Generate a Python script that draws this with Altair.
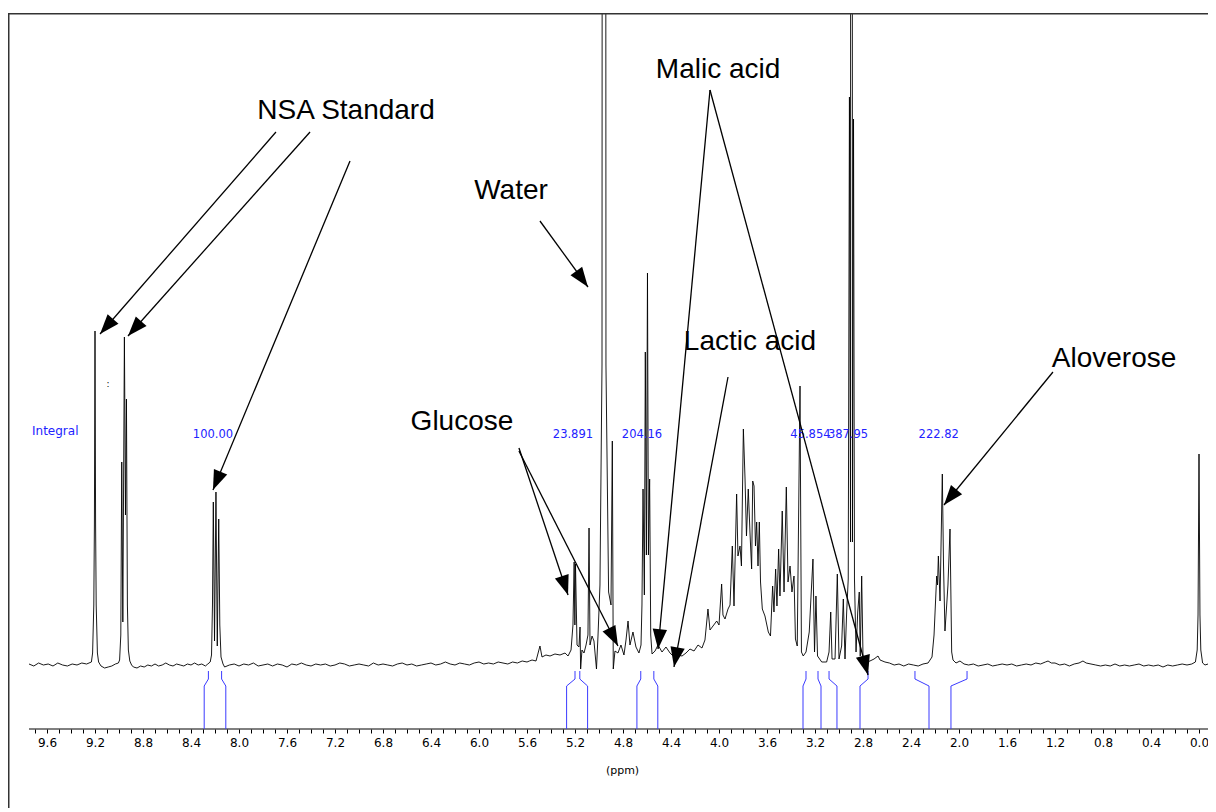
import math
import altair as alt
import pandas as pd

# ---------------- spectrum (ppm, intensity) ----------------
SPEC_PPM = [
    9.75, 9.71, 9.67, 9.63, 9.59, 9.55, 9.51, 9.47, 9.43, 9.39, 9.35, 9.31, 9.27, 9.25,
    9.23, 9.22, 9.21, 9.205, 9.2, 9.195, 9.19, 9.18, 9.17,
    9.15, 9.12, 9.09, 9.06, 9.03, 9.005,
    8.995, 8.985, 8.977, 8.968, 8.955, 8.946, 8.938, 8.93, 8.922, 8.91, 8.895,
    8.88, 8.85, 8.82, 8.79, 8.76, 8.73, 8.70, 8.67, 8.64, 8.61, 8.58, 8.55, 8.52, 8.49, 8.46, 8.43,
    8.40, 8.37, 8.34, 8.31, 8.28, 8.26, 8.24,
    8.229, 8.221, 8.214, 8.204, 8.192, 8.181, 8.169, 8.16, 8.15, 8.133, 8.12,
    8.08, 8.04, 8.00, 7.96, 7.92, 7.88, 7.84, 7.80, 7.76, 7.72, 7.68, 7.64, 7.60, 7.56, 7.52, 7.48,
    7.44, 7.40, 7.36, 7.32, 7.28, 7.24, 7.20, 7.16, 7.12, 7.08, 7.04, 7.00, 6.96, 6.92, 6.88, 6.84,
    6.80, 6.76, 6.72, 6.68, 6.64, 6.60, 6.56, 6.52, 6.48, 6.44, 6.40, 6.36, 6.32, 6.28, 6.24, 6.20,
    6.16, 6.12, 6.08, 6.04, 6.00, 5.96, 5.92, 5.88, 5.84, 5.80, 5.76, 5.72, 5.68, 5.64, 5.60, 5.58,
    5.558, 5.525, 5.492, 5.475, 5.442, 5.408, 5.367, 5.325, 5.283, 5.258,
    5.233, 5.217, 5.207, 5.201, 5.196, 5.183, 5.167, 5.158, 5.153, 5.142, 5.125, 5.108, 5.092, 5.083,
    5.075, 5.058, 5.042, 5.021, 5.008, 4.992,
    4.975, 4.958, 4.942, 4.92, 4.9, 4.889, 4.881, 4.867, 4.842, 4.817, 4.792, 4.775, 4.758, 4.742,
    4.717, 4.692, 4.667, 4.65,
    4.642, 4.633, 4.622, 4.614, 4.605, 4.596, 4.588, 4.578, 4.569, 4.558,
    4.533, 4.508, 4.475, 4.442, 4.408, 4.375, 4.342, 4.308, 4.275, 4.242, 4.208, 4.175, 4.142, 4.117,
    4.092, 4.075, 4.05, 4.019, 4.0, 3.978, 3.967, 3.95, 3.925, 3.908, 3.889, 3.875, 3.853, 3.842,
    3.825, 3.813, 3.797, 3.783, 3.771, 3.756, 3.742, 3.728, 3.719, 3.708, 3.696, 3.686, 3.675, 3.664,
    3.654, 3.639, 3.617, 3.589, 3.571, 3.553, 3.542, 3.528, 3.517, 3.503, 3.492, 3.473, 3.458, 3.439,
    3.425, 3.408, 3.392, 3.375, 3.363, 3.348, 3.325, 3.313, 3.298, 3.275, 3.248, 3.233, 3.217, 3.204,
    3.192, 3.179, 3.144, 3.103, 3.083, 3.069, 3.058, 3.033, 3.014, 3.0, 2.978, 2.964, 2.95, 2.936,
    2.923, 2.913, 2.904, 2.896, 2.888, 2.879, 2.871, 2.858, 2.844, 2.831, 2.823, 2.811, 2.8, 2.769,
    2.742, 2.708, 2.675, 2.658, 2.617,
    2.58, 2.54, 2.50, 2.46, 2.42, 2.38, 2.34, 2.30, 2.258, 2.225, 2.208, 2.186, 2.179, 2.172, 2.158,
    2.139, 2.129, 2.117, 2.103, 2.092, 2.075, 2.061, 2.05, 2.025, 1.992, 1.958,
    1.92, 1.88, 1.84, 1.80, 1.76, 1.72, 1.68, 1.64, 1.60, 1.56, 1.52, 1.48, 1.44, 1.40, 1.36, 1.32,
    1.28, 1.258, 1.23, 1.20, 1.16, 1.12, 1.08, 1.04, 1.00, 0.967, 0.94, 0.90, 0.86, 0.82, 0.78, 0.74,
    0.70, 0.66, 0.62, 0.58, 0.54, 0.50, 0.46, 0.42, 0.38, 0.34, 0.30, 0.26, 0.22, 0.18, 0.14, 0.10,
    0.06, 0.03, 0.015, 0.008, 0.0, -0.008, -0.015, -0.03, -0.05, -0.075,
]
SPEC_INT = [
    1, -1, 2, 0, 1, -1, 2, 0, -1, 1, 0, 2, 1, 2,
    3, 12, 60, 140, 334, 140, 60, 12, 3,
    -1, -3, -2, -1, 1, 2,
    5, 30, 203, 43, 328, 150, 266, 60, 15, 4, 0,
    -2, -3, -1, -2, 0, -1, 1, -1, 0, 2, 0, -1, 1, 0, -1, 1,
    0, 2, 0, 1, -1, 1, 3,
    10, 60, 163, 24, 173, 19, 146, 40, 8, 1, -2,
    0, 1, -1, 1, 0, 2, -1, 0, 1, -1, 1, 0, -2, 1, 0, 2,
    0, -1, 1, 0, 1, -1, 0, 2, 1, -1, 0, 1, 0, -1, 2, 0,
    1, 0, -1, 1, 2, 0, 1, -1, 0, 1, 2, 0, 1, 3, 1, 0,
    2, 1, 0, 2, 3, 1, 2, 1, 3, 2, 1, 3, 2, 4, 3, 4,
    5, 4, 19, 8, 10, 9, 11, 10, 12, 9,
    15, 40, 103, 40, 101, 20, 18, 38, -4, 15, 12, 20, 30, 137,
    20, 29, 24, -4, 30, 80,
    300, 6000, 300, 73, 60, 224, -4, 14, 12, 20, 10, 25, 44, 20,
    33, 18, 12, 20,
    60, 176, 70, 313, 110, 392, 110, 186, 30, 11,
    14, 20, 13, 18, 12, 8, 10, 9, 12, 16, 14, 20, 17, 25,
    56, 35, 39, 44, 40, 81, 50, 46, 56, 60, 119, 59, 171, 109,
    119, 99, 236, 186, 129, 176, 133, 96, 184, 179, 119, 143, 99, 143,
    83, 56, 49, 33, 29, 79, 53, 96, 59, 116, 69, 154, 73, 178,
    83, 99, 73, 89, 26, 19, 279, 13, 9, 13, 33, 69, 106, 13,
    69, 9, 3, 3, 13, 53, 6, 6, 91, 6, 19, 66, 6, 53,
    86, 568, 123, 6000, 123, 546, 86, 13, 53, 73, 9, 89, 9, 3,
    4, 6, 9, 5, 3,
    2, 0, 1, -1, 1, 0, -1, 1, 2, 8, 30, 89, 80, 109, 64,
    191, 100, 34, 59, 80, 136, 13, 5, 2, 4, 1,
    0, 1, -1, 0, 1, -1, 0, 1, 0, 1, -1, 0, 1, 0, 2, 1,
    3, 4, 2, 2, 0, 1, -1, 1, 2, 4, 2, 1, 0, -1, 0, -1,
    1, -1, 0, -1, 0, 1, -1, 0, -1, 0, -2, 0, -1, 0, 1, 0,
    1, 3, 15, 50, 211, 50, 15, 2, 0, 1,
]

# ---------------- integrals ----------------
INT_LABELS = ["100.00", "23.891", "204.16", "45.854", "387.95", "222.82"]
INT_LABEL_PPM = [8.217, 5.217, 4.642, 3.238, 2.925, 2.169]
INT_LABEL_INT = 230
INTEGRAL_WORD_PPM = 9.725
BRACKET_TOP_PPM = [8.255, 8.145, 5.20, 5.16, 4.652, 4.543, 3.275, 3.175, 3.083, 2.758, 2.367, 1.933]
BRACKET_BOT_PPM = [8.29, 8.11, 5.27, 5.095, 4.684, 4.51, 3.30, 3.15, 3.017, 2.825, 2.25, 2.067]
BRACKET_LEVELS = [-6, -14, -21, -64]

# ---------------- annotations ----------------
LABELS = ["NSA Standard", "Water", "Malic acid", "Lactic acid", "Glucose", "Aloverose"]
LABEL_PPM = [7.108, 5.733, 4.008, 3.742, 6.142, 0.708]
LABEL_INT = [554, 474, 595, 323, 243, 306]

ARROW_START_PPM = [7.692, 7.408, 7.075, 5.492, 5.667, 5.667, 4.075, 4.075, 3.925, 1.217]
ARROW_START_INT = [533, 533, 504, 444, 217, 214, 575, 575, 288, 293]
ARROW_TIP_PPM = [9.158, 8.925, 8.217, 5.092, 5.258, 4.842, 4.508, 2.758, 4.375, 2.125]
ARROW_TIP_INT = [331, 329, 175, 378, 70, 19, 16, -10, -2, 160]

TICKS = [round((97 - i) / 10, 1) for i in range(98)]

# ---------------- geometry ----------------
W, H = 1200, 716
XMIN, XMAX = -0.075, 9.925
YMIN, YMAX = -64, 652
xs = alt.Scale(domain=[XMIN, XMAX], reverse=True, nice=False, zero=False)
ys = alt.Scale(domain=[YMIN, YMAX], nice=False, zero=False)

xaxis = alt.Axis(
    values=TICKS,
    labelExpr="round(datum.value*10) % 4 == 0 ? format(datum.value, '.1f') : ''",
    domain=False, ticks=True, tickSize=4, tickColor="black", tickWidth=1,
    labelFont="DejaVu Sans", labelFontSize=12, labelColor="black", labelPadding=4,
    labelFlush=False, labelOverlap=False, grid=False,
    title="(ppm)", titleFont="DejaVu Sans", titleFontSize=11, titleFontWeight="normal",
    titleColor="black", titleX=614, titleY=41, titleAlign="center", titleBaseline="middle",
)


def X(field):
    return alt.X(field, scale=xs, axis=xaxis)


def Y(field):
    return alt.Y(field, scale=ys, axis=None)


spec = pd.DataFrame({"idx": range(len(SPEC_PPM)), "ppm": SPEC_PPM, "inten": SPEC_INT})
spectrum = alt.Chart(spec).mark_line(color="black", strokeWidth=0.9, clip=True).encode(
    x=X("ppm:Q"), y=Y("inten:Q"), order="idx:Q"
)

axis_line = alt.Chart(pd.DataFrame({"ppm": [9.75], "ppm2": [XMIN], "inten": [YMIN]})).mark_rule(
    color="black", strokeWidth=1
).encode(x=X("ppm:Q"), x2="ppm2:Q", y=Y("inten:Q"))

# integral brackets
rows = []
for s, (pt, pb) in enumerate(zip(BRACKET_TOP_PPM, BRACKET_BOT_PPM)):
    for k, (pp, lv) in enumerate(zip([pt, pt, pb, pb], BRACKET_LEVELS)):
        rows.append({"side": s, "k": k, "ppm": pp, "inten": lv})
brackets = alt.Chart(pd.DataFrame(rows)).mark_line(color="#3b3bff", strokeWidth=1).encode(
    x=X("ppm:Q"), y=Y("inten:Q"), detail="side:N", order="k:Q"
)

int_df = pd.DataFrame({"ppm": INT_LABEL_PPM, "inten": [INT_LABEL_INT] * len(INT_LABELS), "t": INT_LABELS})
int_text = alt.Chart(int_df).mark_text(
    font="DejaVu Sans", fontSize=11.5, color="#2222ff", align="center", baseline="middle"
).encode(x=X("ppm:Q"), y=Y("inten:Q"), text="t:N")

word_text = alt.Chart(
    pd.DataFrame({"ppm": [INTEGRAL_WORD_PPM], "inten": [INT_LABEL_INT + 4], "t": ["Integral"]})
).mark_text(
    font="DejaVu Sans", fontSize=12, color="#2222ff", align="left", baseline="middle"
).encode(x=X("ppm:Q"), y=Y("inten:Q"), text="t:N")

colon_text = alt.Chart(pd.DataFrame({"ppm": [9.092], "inten": [281], "t": [":"]})).mark_text(
    font="DejaVu Sans", fontSize=9, color="black", align="center", baseline="middle"
).encode(x=X("ppm:Q"), y=Y("inten:Q"), text="t:N")

lab_df = pd.DataFrame({"ppm": LABEL_PPM, "inten": LABEL_INT, "t": LABELS})
labels = alt.Chart(lab_df).mark_text(
    font="Liberation Sans", fontSize=28, color="black", align="center", baseline="middle"
).encode(x=X("ppm:Q"), y=Y("inten:Q"), text="t:N")

# arrows
arows, heads = [], []
px_per_ppm = W / (XMAX - XMIN)
px_per_int = H / (YMAX - YMIN)
for a in range(len(ARROW_START_PPM)):
    arows.append({"a": a, "k": 0, "ppm": ARROW_START_PPM[a], "inten": ARROW_START_INT[a]})
    arows.append({"a": a, "k": 1, "ppm": ARROW_TIP_PPM[a], "inten": ARROW_TIP_INT[a]})
    dx = -(ARROW_TIP_PPM[a] - ARROW_START_PPM[a]) * px_per_ppm
    dy = -(ARROW_TIP_INT[a] - ARROW_START_INT[a]) * px_per_int
    ang = math.degrees(math.atan2(dx, -dy)) % 360
    heads.append({"ppm": ARROW_TIP_PPM[a], "inten": ARROW_TIP_INT[a], "ang": ang})

arrow_lines = alt.Chart(pd.DataFrame(arows)).mark_line(color="black", strokeWidth=1.3).encode(
    x=X("ppm:Q"), y=Y("inten:Q"), detail="a:N", order="k:Q"
)
arrow_heads = alt.Chart(pd.DataFrame(heads)).mark_point(
    shape="M0,0 L-0.8,2.2 L0.8,2.2 Z", filled=True, color="black", opacity=1, size=324, strokeWidth=0
).encode(x=X("ppm:Q"), y=Y("inten:Q"), angle=alt.Angle("ang:Q", scale=None))

frame_top = alt.Chart(pd.DataFrame({"d": [0]})).mark_rule(color="#333333", strokeWidth=1.5).encode(
    x=alt.value(0), x2=alt.value(W), y=alt.value(0.75)
)
frame_left = alt.Chart(pd.DataFrame({"d": [0]})).mark_rule(color="#333333", strokeWidth=1.5).encode(
    x=alt.value(0.75), y=alt.value(0), y2=alt.value(795)
)

chart = alt.layer(
    spectrum, axis_line, brackets, int_text, word_text, colon_text,
    arrow_lines, arrow_heads, labels, frame_top, frame_left,
).properties(
    width=W, height=H,
    autosize=alt.AutoSizeParams(type="none"),
    padding={"left": 0, "top": 5, "right": 0, "bottom": 79},
).configure_view(stroke=None)

chart.save("out.html", embed_options={"renderer": "svg", "actions": False})
